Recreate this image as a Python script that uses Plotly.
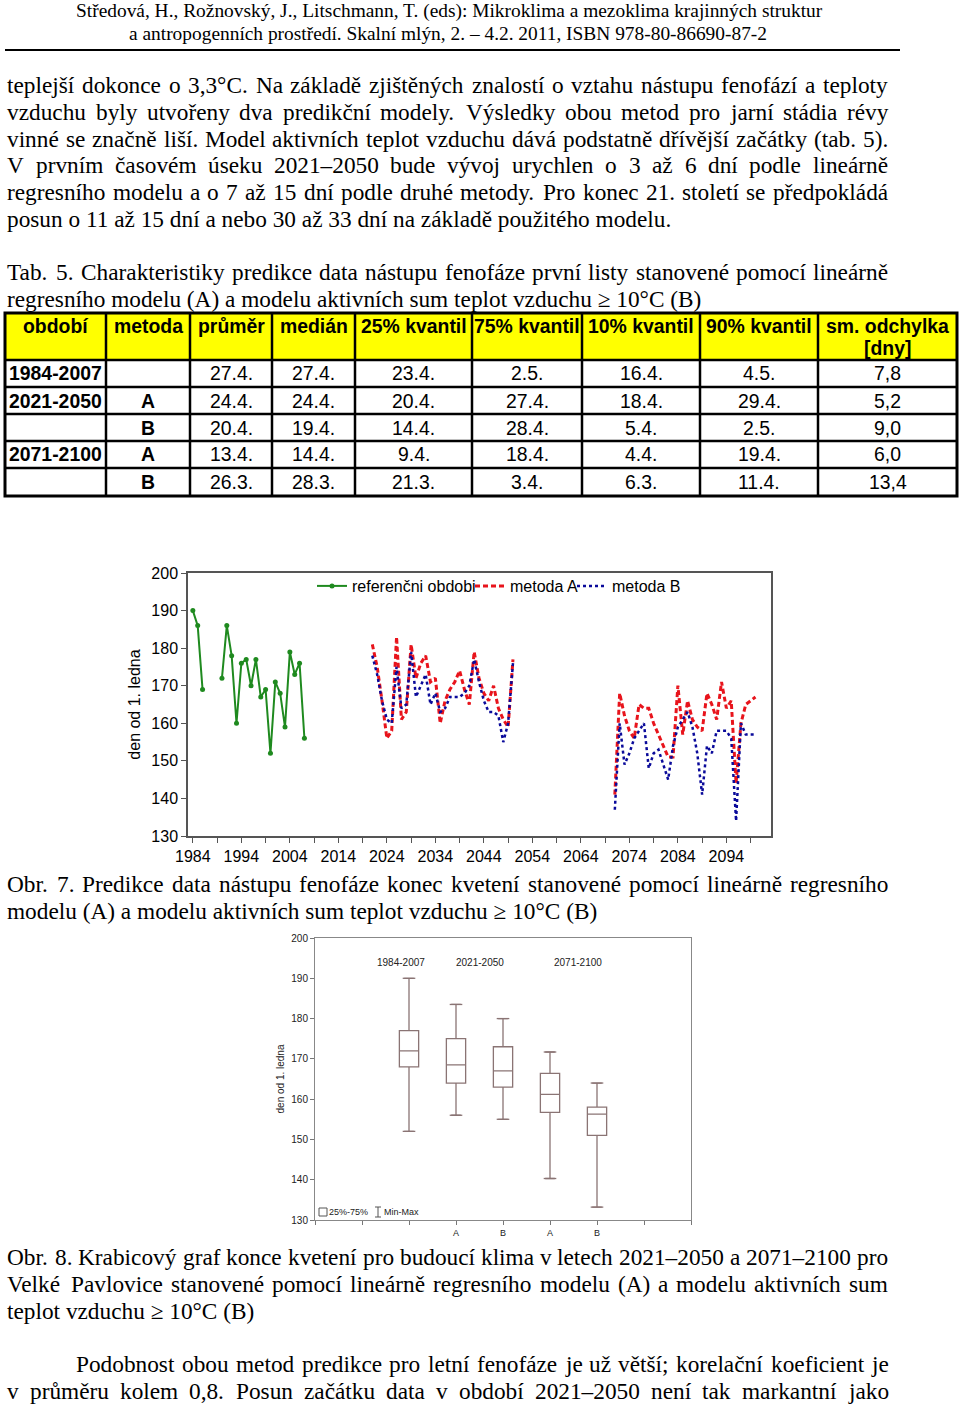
import plotly.graph_objects as go

W, H = 960, 1404

# ---------------- text data ----------------
header_lines = [
    "Středová, H., Rožnovský, J., Litschmann, T. (eds): Mikroklima a mezoklima krajinných struktur",
    "a antropogenních prostředí. Skalní mlýn, 2. – 4.2. 2011, ISBN 978-80-86690-87-2",
]
paragraph1 = [
    "teplejší dokonce o 3,3°C. Na základě zjištěných znalostí o vztahu nástupu fenofází a teploty",
    "vzduchu byly utvořeny dva predikční modely. Výsledky obou metod pro jarní stádia révy",
    "vinné se značně liší. Model aktivních teplot vzduchu dává podstatně dřívější začátky (tab. 5).",
    "V prvním časovém úseku 2021–2050 bude vývoj urychlen o 3 až 6 dní podle lineárně",
    "regresního modelu a o 7 až 15 dní podle druhé metody. Pro konec 21. století se předpokládá",
    "posun o 11 až 15 dní a nebo 30 až 33 dní na základě použitého modelu.",
]
tab_caption = [
    "Tab. 5. Charakteristiky predikce data nástupu fenofáze první listy stanovené pomocí lineárně",
    "regresního modelu (A) a modelu aktivních sum teplot vzduchu ≥ 10°C (B)",
]
obr7_caption = [
    "Obr. 7. Predikce data nástupu fenofáze konec kvetení stanovené pomocí lineárně regresního",
    "modelu (A) a modelu aktivních sum teplot vzduchu ≥ 10°C (B)",
]
obr8_caption = [
    "Obr. 8. Krabicový graf konce kvetení pro budoucí klima v letech 2021–2050 a 2071–2100 pro",
    "Velké Pavlovice stanovené pomocí lineárně regresního modelu (A) a modelu aktivních sum",
    "teplot vzduchu ≥ 10°C (B)",
]
paragraph2 = [
    "Podobnost obou metod predikce pro letní fenofáze je už větší; korelační koeficient je",
    "v průměru kolem 0,8. Posun začátku data v období 2021–2050 není tak markantní jako",
]

# ---------------- table data ----------------
table_header = ["období", "metoda", "průměr", "medián", "25% kvantil", "75% kvantil",
                "10% kvantil", "90% kvantil", "sm. odchylka"]
table_header_unit = "[dny]"
col_obdobi = ["1984-2007", "2021-2050", "", "2071-2100", ""]
col_metoda = ["", "A", "B", "A", "B"]
col_prumer = ["27.4.", "24.4.", "20.4.", "13.4.", "26.3."]
col_median = ["27.4.", "24.4.", "19.4.", "14.4.", "28.3."]
col_q25 = ["23.4.", "20.4.", "14.4.", "9.4.", "21.3."]
col_q75 = ["2.5.", "27.4.", "28.4.", "18.4.", "3.4."]
col_q10 = ["16.4.", "18.4.", "5.4.", "4.4.", "6.3."]
col_q90 = ["4.5.", "29.4.", "2.5.", "19.4.", "11.4."]
col_sd = ["7,8", "5,2", "9,0", "6,0", "13,4"]

# ---------------- line chart data ----------------
ref_years = list(range(1984, 2008))
ref_values = [190, 186, 169, None, None, None, 172, 186, 178, 160, 176, 177,
              170, 177, 167, 169, 152, 171, 168, 159, 179, 173, 176, 156]

future_years = list(range(2021, 2101))
A_2021_2050 = [181, 175, 166, 156, 158, 183, 161, 163, 181, 172, 176, 178, 171, 172, 160,
               166, 169, 171, 174, 169, 165, 179, 172, 168, 166, 170, 164, 161, 159, 177]
B_2021_2050 = [178, 173, 166, 161, 160, 175, 164, 165, 179, 167, 170, 173, 165, 168, 163,
               164, 167, 167, 167, 168, 170, 177, 171, 166, 163, 163, 162, 155, 160, 176]
A_2071_2100 = [141, 168, 162, 158, 156, 165, 164, 164, 160, 157, 154, 151, 151, 170, 157,
               166, 161, 159, 158, 168, 165, 161, 171, 164, 166, 144, 160, 165, 166, 167]
B_2071_2100 = [137, 160, 149, 152, 156, 158, 160, 148, 152, 153, 149, 145, 154, 159, 161,
               163, 159, 152, 141, 154, 152, 158, 158, 158, 156, 134, 160, 157, 157, 157]
gap_2051_2070 = [None] * 20
method_A = A_2021_2050 + gap_2051_2070 + A_2071_2100
method_B = B_2021_2050 + gap_2051_2070 + B_2071_2100

# ---------------- box plot data ----------------
box_groups = ["1984-2007", "2021-2050", "2071-2100"]
box_methods = ["", "A", "B", "A", "B"]
box_min = [152, 156, 155, 140.3, 133.2]
box_q1 = [168, 164, 163, 156.7, 151]
box_median = [172, 168.5, 167, 161.2, 156.3]
box_q3 = [177, 175, 173, 166.4, 158]
box_max = [190, 183.5, 180, 171.7, 164]

# ---------------- helpers ----------------
TNR = {' ': 250, '!': 333, '(': 333, ')': 333, ',': 250, '-': 333, '.': 250, '/': 278,
       ':': 278, ';': 278, '%': 833, '[': 333, ']': 333, '°': 400, '–': 500, '≥': 549,
       'A': 722, 'B': 667, 'C': 667, 'D': 722, 'E': 611, 'F': 556, 'G': 722, 'H': 722,
       'I': 333, 'J': 389, 'K': 722, 'L': 611, 'M': 889, 'N': 722, 'O': 722, 'P': 556,
       'Q': 722, 'R': 667, 'S': 556, 'T': 611, 'U': 722, 'V': 722, 'W': 944, 'X': 722,
       'Y': 722, 'Z': 611,
       'a': 444, 'b': 500, 'c': 444, 'd': 500, 'e': 444, 'f': 333, 'g': 500, 'h': 500,
       'i': 278, 'j': 278, 'k': 500, 'l': 278, 'm': 778, 'n': 500, 'o': 500, 'p': 500,
       'q': 500, 'r': 333, 's': 389, 't': 278, 'u': 500, 'v': 500, 'w': 722, 'x': 500,
       'y': 500, 'z': 444}
for d in "0123456789":
    TNR[d] = 500
ACC = {'á': 'a', 'č': 'c', 'ď': 'd', 'é': 'e', 'ě': 'e', 'í': 'i', 'ň': 'n', 'ó': 'o',
       'ř': 'r', 'š': 's', 'ť': 't', 'ú': 'u', 'ů': 'u', 'ý': 'y', 'ž': 'z',
       'Č': 'C', 'Ř': 'R', 'Š': 'S', 'Ž': 'Z', 'Ý': 'Y', 'Á': 'A', 'É': 'E', 'Í': 'I', 'Ú': 'U'}


def text_width(s, size):
    return sum(TNR.get(ACC.get(c, c), 500) for c in s) / 1000.0 * size


SERIF = "Liberation Serif"
SANS = "Liberation Sans"
BODY = 23.3
annotations = []
shapes = []


def px_x(x):
    return x / W


def px_y(y):
    return 1 - y / H


def add_text(text, x, y, size, family=SERIF, xanchor="left", color="black"):
    annotations.append(dict(text=text, x=px_x(x), y=px_y(y), xref="paper", yref="paper",
                            xanchor=xanchor, yanchor="middle", showarrow=False,
                            borderpad=0, borderwidth=0,
                            font=dict(family=family, size=size, color=color)))


def add_block(lines, y0, x0=7, x1=888, first_indent=0, step=26.8, justify_last=False):
    for i, line in enumerate(lines):
        y = y0 + i * step
        left = x0 + (first_indent if i == 0 else 0)
        last = (i == len(lines) - 1) and not justify_last
        words = line.split(' ')
        if last or len(words) == 1:
            add_text(line, left, y, BODY)
            continue
        widths = [text_width(w, BODY) for w in words]
        gap = (x1 - left - sum(widths)) / (len(words) - 1)
        xx = left
        for w, wd in zip(words, widths):
            add_text(w, xx, y, BODY)
            xx += wd + gap


def hline(x0, x1, y, width=2, color="black"):
    shapes.append(dict(type="line", xref="paper", yref="paper", x0=px_x(x0), x1=px_x(x1),
                       y0=px_y(y), y1=px_y(y), line=dict(color=color, width=width)))


def vline(x, y0, y1, width=2, color="black"):
    shapes.append(dict(type="line", xref="paper", yref="paper", x0=px_x(x), x1=px_x(x),
                       y0=px_y(y0), y1=px_y(y1), line=dict(color=color, width=width)))


# header
add_text(header_lines[0], 449, 11, 19.4, xanchor="center")
add_text(header_lines[1], 448, 33, 19.4, xanchor="center")
hline(5, 900, 50, 2)

add_block(paragraph1, 85)
add_block(tab_caption, 272)
add_block(obr7_caption, 884)
add_block(obr8_caption, 1257)
add_block(paragraph2, 1364, first_indent=69, justify_last=True)

# ---------------- table (shapes + text) ----------------
col_edges = [5, 106, 190, 272, 355, 472, 582, 700, 818, 957]
row_edges = [313, 360, 387, 414, 441, 468, 496]
TFONT = 19.4
shapes.append(dict(type="rect", xref="paper", yref="paper", x0=px_x(col_edges[0]),
                   x1=px_x(col_edges[-1]), y0=px_y(row_edges[1]), y1=px_y(row_edges[0]),
                   fillcolor="#FFFF00", line=dict(width=0), layer="below"))
for r in row_edges[1:-1]:
    hline(col_edges[0], col_edges[-1], r, 2.5)
for c in col_edges[1:-1]:
    vline(c, row_edges[0], row_edges[-1], 2.5)
shapes.append(dict(type="rect", xref="paper", yref="paper", x0=px_x(col_edges[0]),
                   x1=px_x(col_edges[-1]), y0=px_y(row_edges[-1]), y1=px_y(row_edges[0]),
                   line=dict(color="black", width=3)))
for j, h in enumerate(table_header):
    cx = (col_edges[j] + col_edges[j + 1]) / 2
    add_text(f"<b>{h}</b>", cx, 326, TFONT, family=SANS, xanchor="center")
add_text(f"<b>{table_header_unit}</b>", (col_edges[-2] + col_edges[-1]) / 2, 348, TFONT,
         family=SANS, xanchor="center")
columns = [col_obdobi, col_metoda, col_prumer, col_median, col_q25, col_q75, col_q10,
           col_q90, col_sd]
for j, col in enumerate(columns):
    for i, v in enumerate(col):
        if not v:
            continue
        cy = (row_edges[i + 1] + row_edges[i + 2]) / 2
        txt = f"<b>{v}</b>" if j < 2 else v
        if j == 0:
            add_text(txt, col_edges[0] + 4, cy, TFONT, family=SANS)
        else:
            add_text(txt, (col_edges[j] + col_edges[j + 1]) / 2, cy, TFONT, family=SANS,
                     xanchor="center")

fig = go.Figure()

# ---------------- line chart ----------------
GREEN = "#1f8a1f"
RED = "#e8141c"
BLUE = "#0a0a9a"
fig.add_trace(go.Scatter(x=ref_years, y=ref_values, mode="lines+markers", name="referenčni obdobi",
                         line=dict(color=GREEN, width=2), marker=dict(color=GREEN, size=5),
                         connectgaps=False, xaxis="x", yaxis="y", legend="legend"))
fig.add_trace(go.Scatter(x=future_years, y=method_A, mode="lines", name="metoda A",
                         line=dict(color=RED, width=3, dash="5px,3px"), connectgaps=False,
                         xaxis="x", yaxis="y", legend="legend2"))
fig.add_trace(go.Scatter(x=future_years, y=method_B, mode="lines", name="metoda B",
                         line=dict(color=BLUE, width=2.5, dash="dot"), connectgaps=False,
                         xaxis="x", yaxis="y", legend="legend3"))

# ---------------- box plot ----------------
BOXC = "#8a7474"
pos = [i + 2 for i in range(len(box_q1))]
fig.add_trace(go.Box(x=pos, q1=box_q1, median=box_median, q3=box_q3, lowerfence=box_min,
                     upperfence=box_max, width=0.41, fillcolor="white",
                     line=dict(color=BOXC, width=1.3), showlegend=False,
                     xaxis="x2", yaxis="y2", hoverinfo="skip"))
fig.add_trace(go.Scatter(x=pos + pos, y=box_min + box_max, mode="markers", showlegend=False,
                         marker=dict(symbol="line-ew-open", size=9, color=BOXC,
                                     line=dict(color=BOXC, width=1.3)),
                         xaxis="x2", yaxis="y2", hoverinfo="skip"))
for gname, gx in zip(box_groups, [1.83, 3.5, 5.6]):
    annotations.append(dict(text=gname, x=gx, y=194, xref="x2", yref="y2", showarrow=False,
                            font=dict(family=SANS, size=10, color="#222")))

# box legend keys
shapes.append(dict(type="rect", xref="paper", yref="paper", x0=px_x(319), x1=px_x(327),
                   y0=px_y(1216), y1=px_y(1208), line=dict(color="#555", width=1)))
vline(378, 1207, 1217, 1, "#555")
for yy in (1207, 1217):
    hline(375, 381, yy, 1, "#555")
add_text("25%-75%", 329, 1212, 9, family=SANS, color="#222")
add_text("Min-Max", 384, 1212, 9, family=SANS, color="#222")

AX = "#555"


def legend_at(xpx):
    return dict(orientation="h", x=px_x(xpx), y=px_y(586), xanchor="left", yanchor="middle",
                font=dict(family=SANS, size=16, color="black"), bgcolor="rgba(0,0,0,0)",
                itemwidth=30, tracegroupgap=0)


fig.update_layout(
    width=W, height=H, autosize=False,
    margin=dict(l=0, r=0, t=0, b=0, pad=0, autoexpand=False),
    paper_bgcolor="white", plot_bgcolor="white",
    showlegend=True,
    legend=legend_at(312),
    legend2=legend_at(470),
    legend3=legend_at(572),
    xaxis=dict(domain=[px_x(188), px_x(771)], range=[1983, 2103.2], tick0=1984, dtick=10,
               ticks="outside", ticklen=5, tickcolor=AX, showline=True, mirror=True,
               linecolor=AX, linewidth=1.5, showgrid=False, zeroline=False,
               tickfont=dict(family=SANS, size=16, color="black"),
               minor=dict(dtick=5, tick0=1984, ticks="outside", ticklen=5, tickcolor=AX),
               anchor="y"),
    yaxis=dict(domain=[px_y(836), px_y(573)], range=[130, 200], dtick=10, ticks="outside",
               ticklen=5, tickcolor=AX, showline=True, mirror=True, linecolor=AX,
               linewidth=1.5, showgrid=False, zeroline=False,
               tickfont=dict(family=SANS, size=16, color="black"),
               title=dict(text="den od 1. ledna", font=dict(family=SANS, size=16, color="black"),
                          standoff=7),
               anchor="x"),
    xaxis2=dict(domain=[px_x(315), px_x(691)], range=[0, 8], tickvals=list(range(0, 9)),
                ticktext=["", "", ""] + box_methods[1:] + ["", ""], ticks="outside",
                ticklen=4, tickcolor="#777", showline=True, mirror=True, linecolor="#888",
                linewidth=1, showgrid=False, zeroline=False,
                tickfont=dict(family=SANS, size=9, color="#222"), anchor="y2"),
    yaxis2=dict(domain=[px_y(1220), px_y(938)], range=[130, 200], dtick=10, ticks="outside",
                ticklen=4, tickcolor="#777", showline=True, mirror=True, linecolor="#888",
                linewidth=1, showgrid=False, zeroline=False,
                tickfont=dict(family=SANS, size=10, color="#222"),
                title=dict(text="den od 1. ledna", font=dict(family=SANS, size=10, color="#222"),
                           standoff=4),
                anchor="x2"),
    annotations=annotations,
    shapes=shapes,
)

fig.write_html("out.html")
